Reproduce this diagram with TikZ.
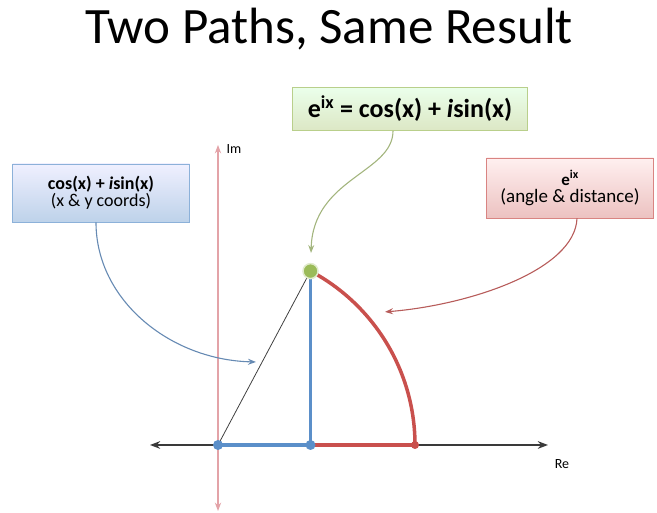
\documentclass[tikz,border=0pt]{standalone}
\usepackage{fontspec}
\setmainfont{Carlito}
\usetikzlibrary{arrows.meta,positioning}

\definecolor{eulergreen}{HTML}{9BBB59}
\definecolor{rectblue}{HTML}{5B8FC9}
\definecolor{polarred}{HTML}{C9504D}
\definecolor{axisgray}{HTML}{3A3A3A}
\definecolor{impink}{HTML}{E3A3A8}

\begin{document}
\begin{tikzpicture}[x=1pt, y=1pt, >=Stealth]
  \useasboundingbox (0,0) rectangle (657,513);
  \tikzset{
    callout/.style={draw=#1!70, line width=0.8pt, align=center, inner sep=0pt},
    ptdot/.style={circle, inner sep=0pt, minimum size=#1},
    pointer/.style={->, line width=1.1pt, shorten >=1pt}
  }
  % title
  \node (title) at (329,484) {\fontsize{51}{55}\selectfont Two Paths, Same Result};
  % axes
  \draw[<->, axisgray, line width=1.6pt] (150,68) -- (548,68);
  \draw[<->, impink, line width=1.2pt] (218,2) -- (218,368);
  \node[right, font=\fontsize{14}{15}\selectfont] (imlabel) at (223,364) {Im};
  \node[font=\fontsize{14}{15}\selectfont] (relabel) at (562,49) {Re};
  % points
  \coordinate (origin) at (218,68);
  \coordinate (foot) at (310.5,68);
  \coordinate (arcend) at (415,68);
  \coordinate (tip) at (310.5,241.9);
  % triangle side
  \draw[line width=0.8pt, black!75] (origin) -- (tip);
  % polar path (red)
  \draw[polarred, line width=3.5pt] (foot) -- (arcend);
  \draw[polarred, line width=3.5pt] (arcend) arc[start angle=0, end angle=62, radius=197];
  % rectangular path (blue)
  \draw[rectblue, line width=3.5pt] (origin) -- (foot) -- (tip);
  \node[ptdot=10pt, fill=rectblue] (o) at (origin) {};
  \node[ptdot=10pt, fill=rectblue] (f) at (foot) {};
  \node[ptdot=8pt, fill=polarred] (a) at (arcend) {};
  \node[ptdot=15pt, fill=eulergreen, draw=eulergreen!30, line width=1.5pt] (t) at (tip) {};
  % boxes
  \node[callout=eulergreen, top color=green!8!white, bottom color=eulergreen!35,
        minimum width=235pt, minimum height=43pt] (eulerbox) at (410,404)
    {\fontsize{26}{28}\selectfont\bfseries e\textsuperscript{ix} = cos(x) + \textit{i}sin(x)};
  \node[callout=rectblue, top color=blue!6!white, bottom color=rectblue!40,
        minimum width=177pt, minimum height=58pt] (rectbox) at (101,320)
    {\fontsize{18}{19}\selectfont\bfseries cos(x) + \textit{i}sin(x)\\
     \fontsize{18}{19}\selectfont (x \& y coords)};
  \node[callout=polarred, top color=red!6!white, bottom color=polarred!35,
        minimum width=167pt, minimum height=60pt] (polarbox) at (570,325)
    {\fontsize{17}{20}\selectfont\bfseries e\textsuperscript{ix}\\[2pt]
     \fontsize{19}{20}\selectfont (angle \& distance)};
  % pointers
  \coordinate (eulerend) at (311,259);
  \coordinate (rectend) at (257,151);
  \coordinate (polarend) at (384,201);
  \draw[pointer, eulergreen!80!black!70] ([xshift=-17pt]eulerbox.south) .. controls (393,340) and (313,335) .. (eulerend);
  \draw[pointer, rectblue!70!gray] ([xshift=-5pt]rectbox.south) .. controls (96,213) and (170,153) .. (rectend);
  \draw[pointer, polarred!75!gray] ([xshift=7pt]polarbox.south) .. controls (575,243) and (470,208) .. (polarend);
\end{tikzpicture}
\end{document}
